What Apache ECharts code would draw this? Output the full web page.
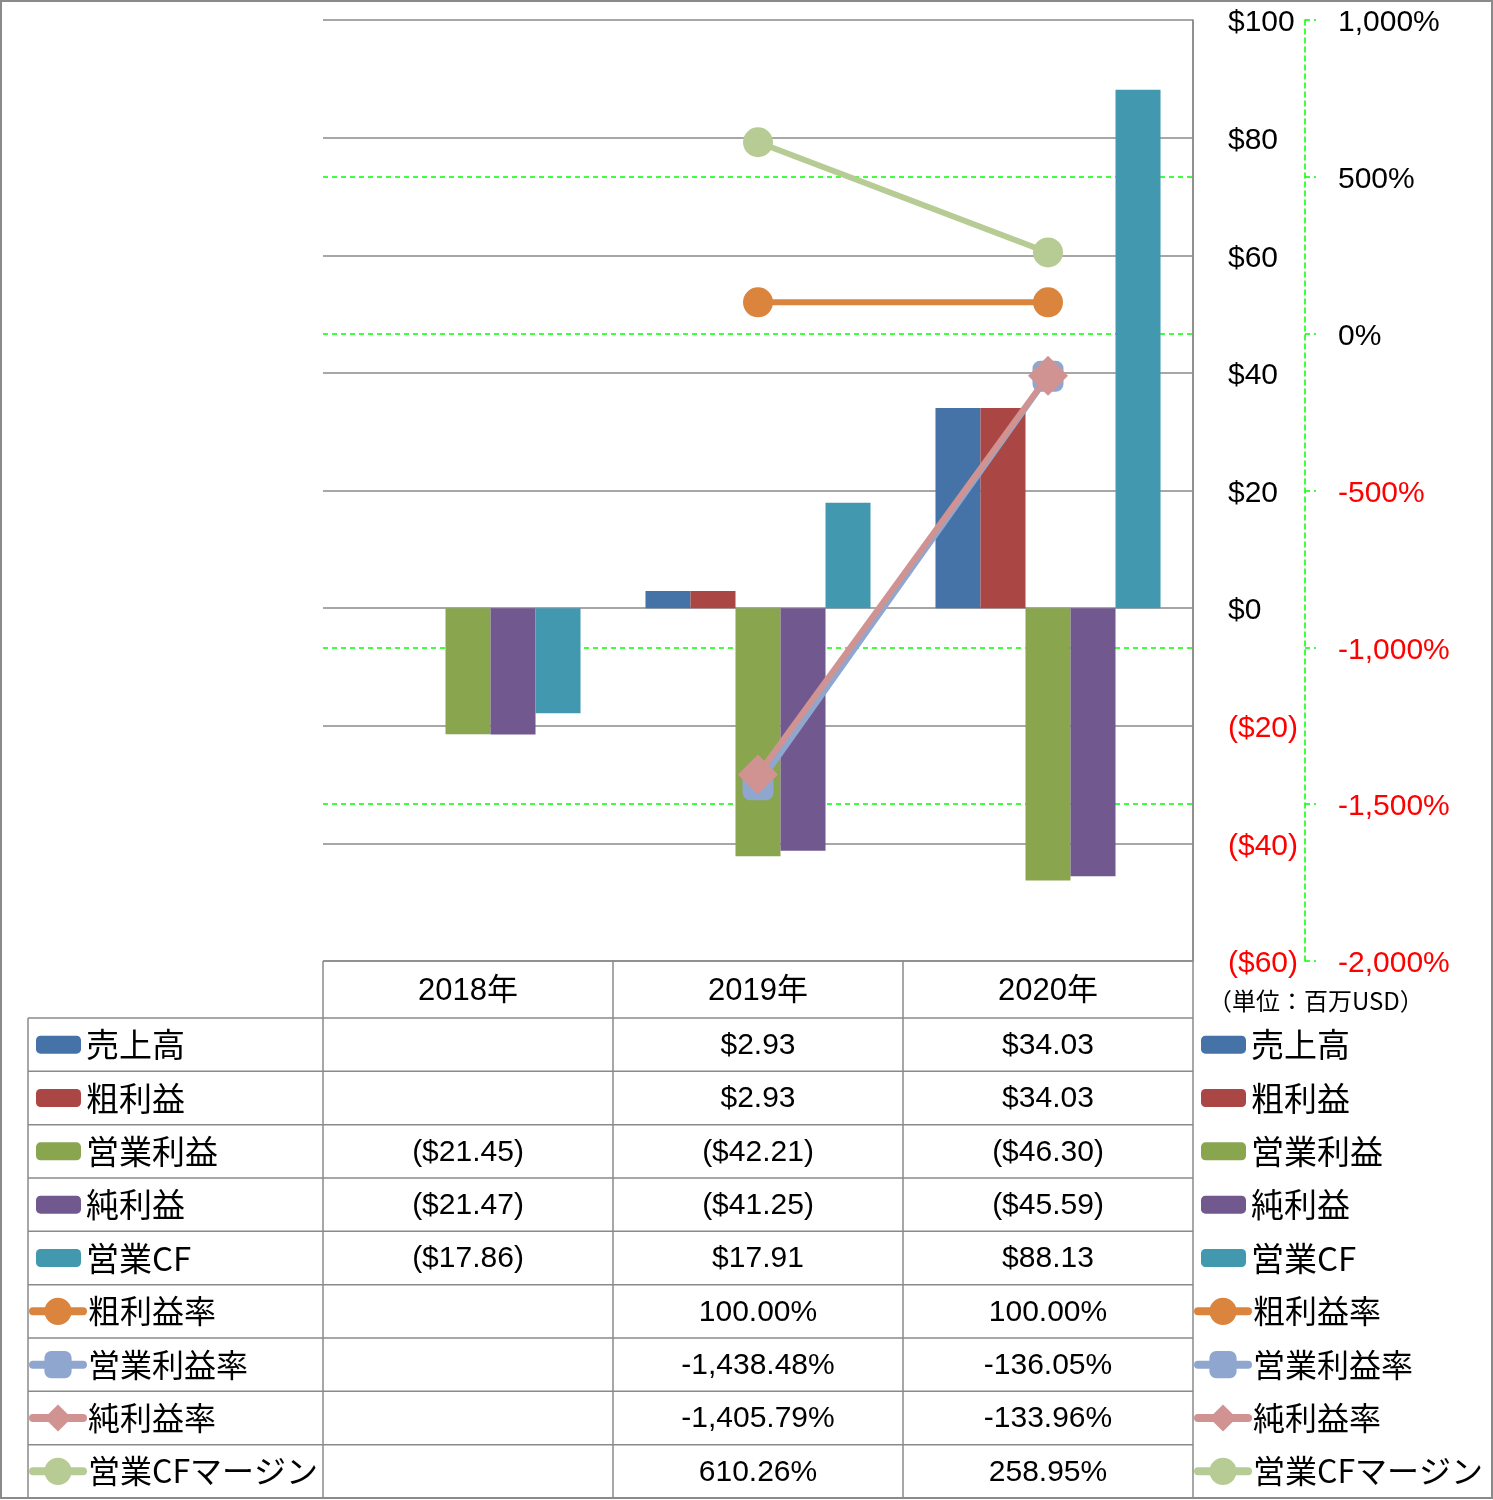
<!DOCTYPE html>
<html><head><meta charset="utf-8">
<script src="https://cdn.jsdelivr.net/npm/echarts@6/dist/echarts.min.js"></script>
<style>html,body{margin:0;padding:0;background:#fff}#c{width:1493px;height:1500px}</style>
</head><body><div id="c"></div>
<script>
// ---- data ----
const categories = ['2018年', '2019年', '2020年'];
const barNames = ['売上高', '粗利益', '営業利益', '純利益', '営業CF'];
const lineNames = ['粗利益率', '営業利益率', '純利益率', '営業CFマージン'];
const revenue = [null, 2.93, 34.03];
const grossProfit = [null, 2.93, 34.03];
const operatingProfit = [-21.45, -42.21, -46.30];
const netProfit = [-21.47, -41.25, -45.59];
const operatingCF = [-17.86, 17.91, 88.13];
const grossMargin = [null, 100.00, 100.00];
const operatingMargin = [null, -1438.48, -136.05];
const netMargin = [null, -1405.79, -133.96];
const cfMargin = [null, 610.26, 258.95];
const usdAxis = { min: -60, max: 100, interval: 20 };
const pctAxis = { min: -2000, max: 1000, interval: 500 };
const unitLabel = '（単位：百万USD）';

// ---- styles ----
const barColors = ['#4572A7', '#AA4643', '#89A54E', '#71588F', '#4198AF'];
const lineColors = ['#DB843D', '#8FA7CE', '#D19392', '#B7CC94'];
const lineSymbols = ['circle', 'roundRect', 'diamond', 'circle'];
const lineSymbolSizes = [30, 31, 40, 30];
const numFont = "'Liberation Sans','Noto Sans CJK JP',sans-serif";
const jpFont = "'Noto Sans CJK JP','Liberation Sans',sans-serif";
const gridLine = '#8a8a8a';
const lime = '#00FF00';
// secondary grid lines that coincide with primary ones are left to the grey lines
const pctSplitColors = ['rgba(0,0,0,0)', lime, lime, 'rgba(0,0,0,0)', lime, lime, 'rgba(0,0,0,0)'];

const barData = [revenue, grossProfit, operatingProfit, netProfit, operatingCF];
const lineData = [grossMargin, operatingMargin, netMargin, cfMargin];

function fmtUsd(v) {
  if (v == null) return '';
  return v < 0 ? '($' + (-v).toFixed(2) + ')' : '$' + v.toFixed(2);
}
function fmtPct(v) {
  if (v == null) return '';
  return v.toLocaleString('en-US', { minimumFractionDigits: 2, maximumFractionDigits: 2 }) + '%';
}

// ---- table geometry ----
const X0 = 28, XL = 323, colW = 290, XR = 1193;
const tableTop = 961, headTop = 1018, rowH = 53.33, nRows = 9;

const graphics = [];
const lineStyle = { stroke: gridLine, lineWidth: 1.5 };
graphics.push({ type: 'line', silent: true, shape: { x1: XL, y1: tableTop, x2: XR, y2: tableTop }, style: lineStyle });
for (let k = 0; k <= nRows; k++) {
  const y = headTop + k * rowH;
  graphics.push({ type: 'line', silent: true, shape: { x1: X0, y1: y, x2: XR, y2: y }, style: lineStyle });
}
graphics.push({ type: 'line', silent: true, shape: { x1: X0, y1: headTop, x2: X0, y2: headTop + nRows * rowH }, style: lineStyle });
for (let c = 0; c <= 3; c++) {
  const x = XL + c * colW;
  graphics.push({ type: 'line', silent: true, shape: { x1: x, y1: c === 3 ? 20 : tableTop, x2: x, y2: headTop + nRows * rowH }, style: lineStyle });
}
const rowValues = barData.map(a => a.map(fmtUsd)).concat(lineData.map(a => a.map(fmtPct)));
rowValues.forEach((vals, r) => {
  vals.forEach((t, c) => {
    if (!t) return;
    graphics.push({
      type: 'text', silent: true,
      x: XL + c * colW + colW / 2, y: headTop + r * rowH + rowH / 2 + 1,
      style: { text: t, fill: '#000', font: '30px ' + numFont, textAlign: 'center', textVerticalAlign: 'middle' }
    });
  });
});
graphics.push({
  type: 'text', silent: true, x: 1208, y: 1001,
  style: { text: unitLabel, fill: '#000', font: '24px ' + jpFont, textAlign: 'left', textVerticalAlign: 'middle' }
});
graphics.push({
  type: 'rect', silent: true, shape: { x: 1, y: 1, width: 1491, height: 1497 },
  style: { fill: 'none', stroke: '#8a8a8a', lineWidth: 2 }
});

// ---- legends ----
function legendCfg(names, left, top, isLine) {
  return {
    data: names, orient: 'vertical', left: left, top: top, padding: 0,
    itemWidth: isLine ? 50 : 45, itemHeight: isLine ? 34 : 18,
    itemGap: rowH - 34, selectedMode: false,
    lineStyle: isLine ? { width: 8, cap: 'round' } : undefined,
    textStyle: { fontSize: isLine ? 32 : 33, lineHeight: 34, fontFamily: jpFont, color: '#000', padding: [0, 0, 0, 0] }
  };
}
const barLegendTop = headTop + rowH / 2 - 17;
const lineLegendTop = headTop + 5 * rowH + rowH / 2 - 17;

const series = [];
barNames.forEach((n, i) => {
  series.push({
    name: n, type: 'bar', yAxisIndex: 0, data: barData[i],
    barGap: 0, barCategoryGap: '22.4%',
    itemStyle: { color: barColors[i] }
  });
});
lineNames.forEach((n, i) => {
  series.push({
    name: n, type: 'line', yAxisIndex: 1, data: lineData[i],
    symbol: lineSymbols[i], symbolSize: lineSymbolSizes[i], showAllSymbol: true,
    lineStyle: { color: lineColors[i], width: 6 },
    itemStyle: { color: lineColors[i] },
    z: 3 + i
  });
});

const axisRich = {
  pos: { fontSize: 30, fontFamily: numFont, color: '#000', padding: [6, 0, 0, 0] },
  neg: { fontSize: 30, fontFamily: numFont, color: '#FF0000', padding: [6, 0, 0, 0] }
};

const chart = echarts.init(document.getElementById('c'), null, { renderer: 'canvas' });
chart.setOption({
  animation: false,
  backgroundColor: '#fff',
  grid: { left: XL, right: 1493 - XR, top: 20, bottom: 1500 - tableTop, containLabel: false },
  xAxis: {
    type: 'category', data: categories,
    axisLine: { show: false }, axisTick: { show: false },
    axisLabel: { fontSize: 31, fontFamily: numFont, color: '#000', margin: 15 },
    splitLine: { show: false }
  },
  yAxis: [
    {
      type: 'value', position: 'right', min: usdAxis.min, max: usdAxis.max, interval: usdAxis.interval,
      axisLine: { show: true, lineStyle: { color: gridLine, width: 1.5 } },
      axisTick: { show: false },
      splitLine: { show: true, lineStyle: { color: gridLine, width: 1.5 } },
      axisLabel: {
        margin: 35, rich: axisRich,
        formatter: v => (v < 0 ? '{neg|($' + (-v) + ')}' : '{pos|$' + v + '}')
      }
    },
    {
      type: 'value', position: 'right', offset: 112, min: pctAxis.min, max: pctAxis.max, interval: pctAxis.interval,
      axisLine: { show: true, lineStyle: { color: lime, width: 1.5, type: [5, 4] } },
      axisTick: { show: true, inside: false, length: 11, lineStyle: { color: lime, width: 1.5, type: [5, 4] } },
      splitLine: { show: true, lineStyle: { color: pctSplitColors, width: 1.5, type: [5, 4] } },
      axisLabel: {
        margin: 33, rich: axisRich,
        formatter: v => (v < 0 ? '{neg|' : '{pos|') + v.toLocaleString('en-US') + '%}'
      }
    }
  ],
  legend: [
    legendCfg(barNames, 36, barLegendTop, false),
    legendCfg(lineNames, 29, lineLegendTop, true),
    legendCfg(barNames, 1201, barLegendTop, false),
    legendCfg(lineNames, 1194, lineLegendTop, true)
  ],
  series: series,
  graphic: graphics
});
</script>
</body></html>
